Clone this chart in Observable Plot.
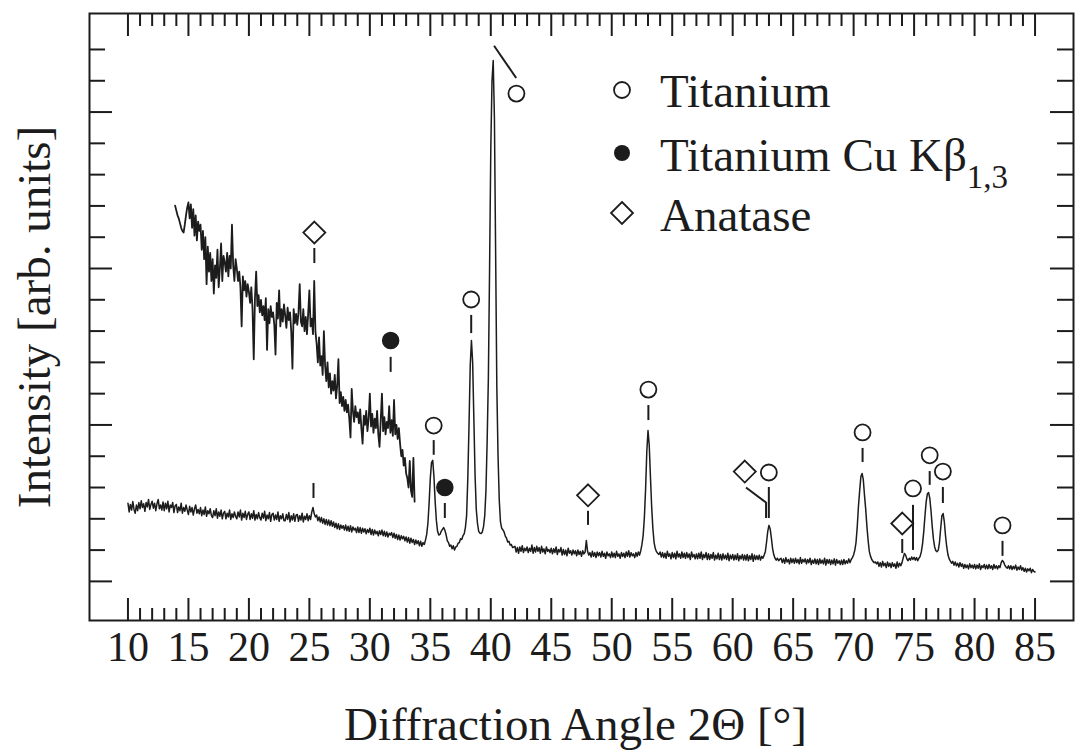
<!DOCTYPE html>
<html><head><meta charset="utf-8">
<script src="https://cdn.jsdelivr.net/npm/d3@7"></script>
<script src="https://cdn.jsdelivr.net/npm/@observablehq/plot@0.6"></script>
<style>
html,body{margin:0;padding:0;background:#fff;}
#wrap{position:relative;width:1077px;height:754px;overflow:hidden;}
</style></head><body><div id="wrap"></div>
<script>
// ---------- data ----------
const xTitle = "Diffraction Angle 2Θ [°]";
const yTitle = "Intensity [arb. units]";
const xMajorTicks = [10,15,20,25,30,35,40,45,50,55,60,65,70,75,80,85];
const yTicks = [0,100,200,300,400,500,600,700,800,900,1000,1100,1200,1300,1400,1500,1600,1700];
const yMajorTicks = [0,500,1000,1500];

// main diffractogram, 2θ from 10.0 to 85.0 in 0.1° steps
const mainStart = 10.0, mainStep = 0.1;
const mainCounts = [
250,222,246,228,255,230,218,244,226,252,
232,258,236,248,224,252,238,262,230,246,
256,234,250,226,248,262,232,244,228,254,
226,250,232,256,222,244,236,252,220,242,
246,220,238,226,250,218,236,224,244,228,
214,240,222,236,212,232,244,218,230,216,
236,210,228,214,238,208,226,216,232,210,
204,226,210,232,202,222,208,228,200,218,
224,200,218,206,228,198,216,204,222,208,
200,222,206,228,196,218,204,224,198,214,
222,198,216,202,226,196,214,200,220,204,
196,218,202,224,194,212,200,220,192,214,
218,196,212,198,222,192,210,200,216,194,
194,214,198,220,190,210,196,216,192,212,
214,192,210,196,218,190,208,198,216,194,
210,198,222,236,216,206,212,194,206,190,
204,186,200,182,198,180,196,178,194,176,
190,172,186,168,184,166,180,170,178,164,
180,162,176,160,178,158,174,164,170,156,
174,156,172,154,170,158,168,152,166,156,
170,150,166,148,164,152,160,146,162,150,
164,146,160,144,158,142,154,148,156,140,
154,138,150,134,148,132,146,136,144,130,
142,126,140,122,138,124,134,118,132,120,
130,114,128,112,124,118,132,150,185,250,
330,380,387,335,255,195,160,148,150,160,
166,172,164,150,130,124,112,116,104,114,
100,110,112,122,124,136,134,146,152,172,
210,330,500,690,770,700,520,340,230,185,
160,154,153,158,175,210,290,450,650,1000,
1380,1600,1665,1480,1050,620,400,260,190,170,
165,158,145,138,126,128,116,118,108,110,
112,94,108,90,110,96,114,92,106,98,
110,92,106,96,116,90,108,94,112,96,
108,90,112,94,104,88,110,96,102,92,
106,88,104,92,110,86,102,94,108,84,
102,86,100,82,106,90,98,84,100,88,
98,82,100,86,96,80,98,88,94,131,
96,84,92,78,96,80,92,76,94,82,
92,78,96,80,90,74,94,82,88,76,
94,78,90,76,96,80,88,74,92,80,
90,76,94,80,98,78,92,82,88,76,
92,80,94,84,98,118,148,205,295,415,
482,435,335,240,170,125,105,95,90,86,
94,78,92,76,90,74,96,80,88,72,
92,76,90,72,96,78,88,74,94,76,
90,74,92,76,88,70,94,78,86,72,
88,72,90,74,94,70,86,76,92,70,
88,70,86,74,92,68,84,72,90,70,
86,68,88,72,84,70,90,66,84,72,
86,68,84,70,88,66,82,72,86,68,
84,68,86,66,82,70,88,64,84,70,
82,70,84,68,80,74,84,95,125,160,
179,168,138,105,85,74,68,74,66,71,
74,60,72,58,76,62,70,56,74,60,
72,58,74,60,70,56,76,58,70,62,
72,56,70,60,74,54,68,58,72,56,
70,54,72,58,68,56,74,52,70,58,
70,54,68,56,72,52,70,58,66,54,
68,54,70,56,66,58,72,60,70,76,
85,100,125,175,240,290,335,345,325,275,
230,175,130,95,80,70,64,60,62,56,
62,48,60,46,64,50,58,44,62,48,
58,44,60,48,56,42,62,46,58,50,
60,75,89,84,72,66,74,68,78,70,
77,68,76,66,74,80,95,120,160,210,
255,280,284,265,225,175,135,110,98,95,
100,125,170,210,217,190,145,110,85,72,
65,58,64,52,62,50,58,46,60,48,
56,42,54,44,52,40,56,44,52,42,
54,40,52,42,56,38,50,44,54,40,
52,40,54,42,50,38,54,42,50,40,
50,44,60,67,62,52,46,42,50,40,
50,38,48,40,52,36,46,38,50,36,
44,32,42,30,40,34,42,28,38,32,
30
];

// magnified low-angle part (offset trace), 2θ from 13.9 to 33.7 in 0.1° steps
const insetStart = 13.9, insetStep = 0.1;
const insetCounts = [
1201,
1185,1170,1160,1145,1130,1120,1115,1140,1170,1195,
1211,1160,1205,1130,1190,1105,1170,1090,1150,1120,
1140,1060,1120,1030,1100,950,1070,990,1050,960,
1030,920,1010,970,1060,940,1000,1080,960,1040,
1020,990,1050,975,1040,1000,1140,1010,960,1030,
1000,960,990,940,815,975,930,960,910,950,
925,890,940,870,710,905,990,880,915,860,
900,850,880,835,905,740,870,825,880,845,
860,820,725,890,840,930,815,870,830,885,
850,810,875,835,860,800,680,870,825,855,
820,860,950,830,815,870,800,845,790,855,
930,815,840,790,960,800,760,700,780,690,
720,660,800,690,640,700,620,665,600,640,
610,660,585,625,710,570,605,560,590,545,
580,540,565,520,460,615,545,510,560,525,
540,505,550,490,440,530,500,545,480,520,
600,495,535,475,520,490,545,470,430,515,
600,480,525,470,510,490,560,475,515,465,
580,470,500,455,490,440,400,420,370,395,
345,330,300,385,290,270,395,255
];

// phase markers
const tiAngle    = [35.28, 38.38, 42.12, 53.03, 62.99, 70.74, 74.91, 76.29, 77.38, 82.31];
const tiLevel    = [498, 901, 1559, 613, 348, 476, 297, 403, 351, 179];
const tiTickLow  = [403, 792, null, 514, 201, 380, 99, 307, 249, 80];
const tiTickHigh = [450, 850, null, 562, 300, 425, 243, 351, 300, 128];
const cuAngle    = [31.72, 36.2];
const cuLevel    = [770, 300];
const cuTickLow  = [668, 201];
const cuTickHigh = [716, 249];
const anAngle    = [25.41, 48.04, 61.0, 74.02];
const anLevel    = [1115, 275, 351, 185];
const anTickAngle = [25.41, 48.04, 62.76, 74.02];
const anTickLow  = [1016, 179, 201, 89];
const anTickHigh = [1064, 224, 252, 134];
const extraTickAngle = [25.34];
const extraTickLow = [265];
const extraTickHigh = [313];
// leader lines
const leaderA1 = [40.27, 61.1];
const leaderY1 = [1712, 300];
const leaderA2 = [42.1, 62.76];
const leaderY2 = [1609, 252];

const legendLabels = ["Titanium", "Titanium Cu Kβ", "Anatase"];
const legendSub = ["", "1,3", ""];

// ---------- build ----------
const ink = "#1c1c1c";
const font = "'Liberation Serif', 'Times New Roman', serif";
const mainData = mainCounts.map((v, i) => ({angle: +(mainStart + i * mainStep).toFixed(2), counts: v}));
const insetData = insetCounts.map((v, i) => ({angle: +(insetStart + i * insetStep).toFixed(2), counts: v}));
const tiData = tiAngle.map((a, i) => ({angle: a, level: tiLevel[i], lo: tiTickLow[i], hi: tiTickHigh[i]}));
const cuData = cuAngle.map((a, i) => ({angle: a, level: cuLevel[i], lo: cuTickLow[i], hi: cuTickHigh[i]}));
const anData = anAngle.map((a, i) => ({angle: a, level: anLevel[i]}));
const markTicks = [
  ...tiData.filter(d => d.lo != null),
  ...cuData,
  ...anTickAngle.map((a, i) => ({angle: a, lo: anTickLow[i], hi: anTickHigh[i]})),
  ...extraTickAngle.map((a, i) => ({angle: a, lo: extraTickLow[i], hi: extraTickHigh[i]}))
];
const leaders = leaderA1.map((a, i) => ({x1: a, y1: leaderY1[i], x2: leaderA2[i], y2: leaderY2[i]}));
const xMinorTicks = d3.range(10, 86).filter(v => v % 5 !== 0);
const yMinorTicks = yTicks.filter(v => !yMajorTicks.includes(v));

const W = 1077, H = 754;
const mL = 89, mR = 4, mT = 13, mB = 134;
const fw = W - mL - mR, fh = H - mT - mB;

const chart = Plot.plot({
  width: W, height: H,
  marginLeft: mL, marginRight: mR, marginTop: mT, marginBottom: mB,
  x: {domain: [6.82, 88.18], axis: null},
  y: {domain: [-125, 1815], axis: null},
  style: {background: "white", fontFamily: font, color: ink},
  marks: [
    Plot.line(mainData, {x: "angle", y: "counts", stroke: ink, strokeWidth: 1.5, strokeLinejoin: "round"}),
    Plot.line(insetData, {x: "angle", y: "counts", stroke: ink, strokeWidth: 1.8, strokeLinejoin: "round"}),
    Plot.ruleX(markTicks, {x: "angle", y1: "lo", y2: "hi", stroke: ink, strokeWidth: 2}),
    Plot.link(leaders, {x1: "x1", y1: "y1", x2: "x2", y2: "y2", stroke: ink, strokeWidth: 2}),
    Plot.dot(tiData, {x: "angle", y: "level", r: 8, stroke: ink, strokeWidth: 1.8, fill: "white"}),
    Plot.dot(cuData, {x: "angle", y: "level", r: 8, fill: ink, stroke: ink}),
    Plot.dot(anData, {x: "angle", y: "level", r: 9.9, symbol: "diamond2", stroke: ink, strokeWidth: 1.8, fill: "white"}),
    // axis ticks (inward)
    Plot.tickX(xMajorTicks, {x: d => d, insetTop: fh - 22, stroke: ink, strokeWidth: 2}),
    Plot.tickX(xMinorTicks, {x: d => d, insetTop: fh - 12, stroke: ink, strokeWidth: 2}),
    Plot.tickX(xMajorTicks, {x: d => d, insetBottom: fh - 23, stroke: ink, strokeWidth: 2}),
    Plot.tickX(xMinorTicks, {x: d => d, insetBottom: fh - 13, stroke: ink, strokeWidth: 2}),
    Plot.tickY(yMajorTicks, {y: d => d, insetRight: fw - 23, stroke: ink, strokeWidth: 2}),
    Plot.tickY(yMinorTicks, {y: d => d, insetRight: fw - 16, stroke: ink, strokeWidth: 2}),
    Plot.tickY(yMajorTicks, {y: d => d, insetLeft: fw - 23, stroke: ink, strokeWidth: 2}),
    Plot.tickY(yMinorTicks, {y: d => d, insetLeft: fw - 16, stroke: ink, strokeWidth: 2}),
    // tick labels and titles
    Plot.text(xMajorTicks, {x: d => d, text: d => String(d), frameAnchor: "bottom", lineAnchor: "top", dy: 11, fontSize: 42, fill: ink}),
    Plot.text([xTitle], {text: d => d, frameAnchor: "bottom", lineAnchor: "top", dy: 86, dx: -6, fontSize: 47, fill: ink}),
    Plot.text([yTitle], {text: d => d, frameAnchor: "left", textAnchor: "middle", lineAnchor: "middle", rotate: -90, dx: -55, fontSize: 47, fill: ink}),
    Plot.frame({stroke: ink, strokeWidth: 2})
  ]
});
const wrap = document.getElementById("wrap");
wrap.appendChild(chart);

// legend (inside the plot area, upper right)
const legendY = [107, 171, 231];
const symY = [90, 153, 213];
const lg = d3.select(wrap).append("svg")
  .attr("width", W).attr("height", 260)
  .style("position", "absolute").style("left", "0px").style("top", "0px")
  .style("font-family", font);
legendLabels.forEach((lab, i) => {
  const t = lg.append("text").attr("x", 660).attr("y", legendY[i])
    .attr("font-size", 47).attr("fill", ink).text(lab);
  if (legendSub[i]) t.append("tspan").attr("font-size", 33).attr("dy", 17).text(legendSub[i]);
});
lg.append("circle").attr("cx", 622).attr("cy", symY[0]).attr("r", 8)
  .attr("fill", "white").attr("stroke", ink).attr("stroke-width", 1.8);
lg.append("circle").attr("cx", 622).attr("cy", symY[1]).attr("r", 8).attr("fill", ink);
lg.append("path").attr("d", d3.symbol(d3.symbolDiamond2, Math.PI * 9.9 * 9.9)())
  .attr("transform", `translate(622,${symY[2]})`)
  .attr("fill", "white").attr("stroke", ink).attr("stroke-width", 1.8);
</script></body></html>
